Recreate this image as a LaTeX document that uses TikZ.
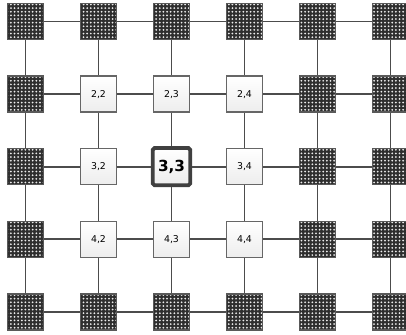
\documentclass[tikz,border=0pt]{standalone}
\usepackage{fontspec}
\setsansfont{DejaVu Sans}
\usetikzlibrary{patterns.meta}
\tikzdeclarepattern{
  name=bigdots, type=uncolored,
  bounding box={(-1.55pt,-1.55pt) and (1.55pt,1.55pt)},
  tile size={(3.1pt,3.1pt)},
  code={\fill (0,0) circle (0.85pt);}
}
\tikzset{
  cell/.style  = {draw=black!60, line width=1.1pt, minimum size=1.08cm,
                  inner sep=0pt, font=\sffamily\fontsize{8}{10}\selectfont,
                  top color=white, bottom color=black!7},
  dcell/.style = {draw=black!65, line width=1.1pt, minimum size=1.08cm,
                  inner sep=0pt, preaction={fill=black!82},
                  pattern=bigdots, pattern color=black!8},
  hcell/.style = {cell, draw=black!75, line width=3.2pt, rounded corners=1.5pt,
                  minimum size=1.12cm,
                  font=\sffamily\bfseries\fontsize{13}{15}\selectfont},
  link/.style  = {draw=black!70, line width=1.7pt}
}

\begin{document}
\begin{tikzpicture}[x=0.03cm, y=-0.03cm]
\useasboundingbox (0,0) rectangle (406,335);
% mesh cells
\foreach \r in {1,...,5}{
  \foreach \c in {1,...,6}{
    \pgfmathtruncatemacro{\kind}{(\r==3 && \c==3) ? 2 :
      ((\r>1 && \r<5 && \c>1 && \c<5) ? 1 : 0)}
    \ifcase\kind
      \node[dcell] (n-\r-\c) at ({25.5+73*(\c-1)},{21.5+72.6*(\r-1)}) {};
    \or
      \node[cell] (n-\r-\c) at ({25.5+73*(\c-1)},{21.5+72.6*(\r-1)}) {\r,\c};
    \or
      \node[hcell] (n-\r-\c) at ({25.5+73*(\c-1)},{21.5+72.6*(\r-1)}) {\r,\c};
    \fi
  }
}
% horizontal links
\foreach \r in {1,...,5}{
  \foreach \c in {1,...,5}{
    \pgfmathtruncatemacro{\cc}{\c+1}
    \draw[link] (n-\r-\c) -- (n-\r-\cc);
  }
}
% vertical links
\foreach \r in {1,...,4}{
  \foreach \c in {1,...,6}{
    \pgfmathtruncatemacro{\rr}{\r+1}
    \draw[link] (n-\r-\c) -- (n-\rr-\c);
  }
}
\end{tikzpicture}
\end{document}
